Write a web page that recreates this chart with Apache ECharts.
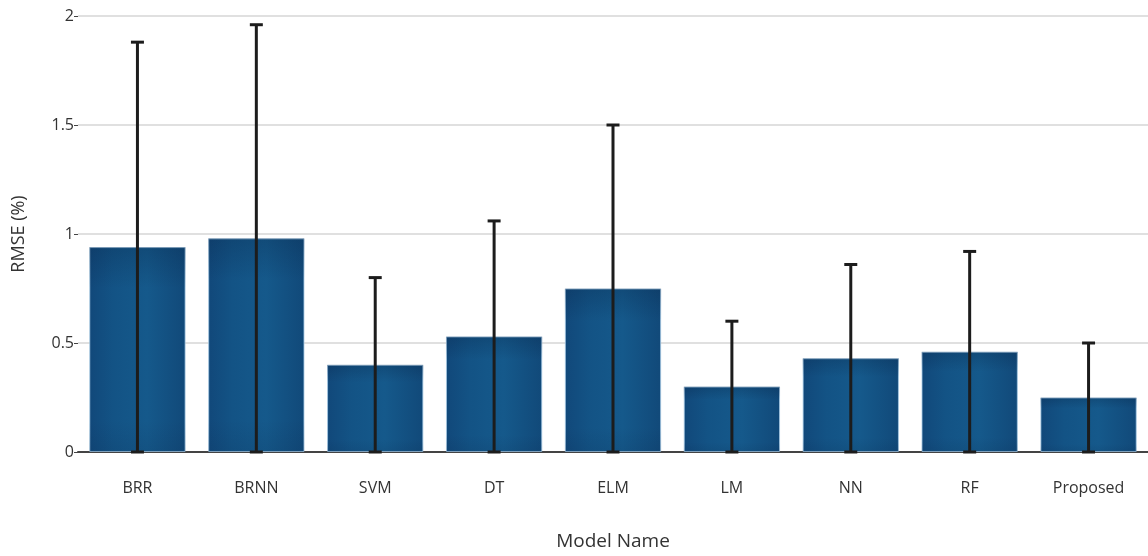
<!DOCTYPE html>
<html>
<head>
<meta charset="utf-8">
<script src="https://cdn.jsdelivr.net/npm/echarts@6/dist/echarts.min.js"></script>
<style>
html,body{margin:0;padding:0;background:#fff;}
#chart{width:1148px;height:556px;}
</style>
</head>
<body>
<div id="chart"></div>
<script>
const categories = ['BRR','BRNN','SVM','DT','ELM','LM','NN','RF','Proposed'];
const rmseValues = [0.94, 0.98, 0.40, 0.53, 0.75, 0.30, 0.43, 0.46, 0.25];
const rmseErrors = [0.94, 0.98, 0.40, 0.53, 0.75, 0.30, 0.43, 0.46, 0.25];
const yTicks = [0, 0.5, 1, 1.5, 2];

const errorData = categories.map((c, i) => [i, rmseValues[i] - rmseErrors[i], rmseValues[i] + rmseErrors[i]]);

const chart = echarts.init(document.getElementById('chart'));
const font = '"Open Sans", "Noto Sans", sans-serif';
chart.setOption({
  animation: false,
  textStyle: { fontFamily: font },
  grid: { left: 78, right: 0, top: 16, bottom: 97, containLabel: false },
  xAxis: {
    type: 'category',
    data: categories,
    name: 'Model Name',
    nameLocation: 'middle',
    nameGap: 80,
    nameTextStyle: { fontSize: 19, color: '#333', fontFamily: font },
    axisLine: { show: true, lineStyle: { color: '#444', width: 2 } },
    axisTick: { show: false },
    axisLabel: { color: '#333', fontSize: 16, margin: 28, fontFamily: font }
  },
  yAxis: {
    type: 'value',
    min: yTicks[0],
    max: yTicks[yTicks.length - 1],
    interval: 0.5,
    name: 'RMSE (%)',
    nameLocation: 'middle',
    nameGap: 50,
    nameTextStyle: { fontSize: 18, color: '#333', fontFamily: font },
    axisLine: { show: false },
    axisTick: { show: true, length: 4, lineStyle: { color: '#444' } },
    axisLabel: { color: '#333', fontSize: 16, margin: 4, fontFamily: font },
    splitLine: { lineStyle: { color: '#d6d6d6', width: 1.5 } }
  },
  series: [
    {
      type: 'bar',
      data: rmseValues,
      barCategoryGap: '19%',
      itemStyle: {
        color: new echarts.graphic.LinearGradient(0, 0, 1, 0, [
          { offset: 0, color: '#11487a' },
          { offset: 0.25, color: '#135385' },
          { offset: 0.6, color: '#15598b' },
          { offset: 1, color: '#114979' }
        ]),
        borderColor: 'rgba(165,200,228,0.8)',
        borderWidth: 1
      },
      z: 2
    },
    {
      type: 'bar',
      data: rmseValues,
      barGap: '-100%',
      barCategoryGap: '19%',
      silent: true,
      itemStyle: {
        color: new echarts.graphic.LinearGradient(0, 0, 0, 1, [
          { offset: 0, color: 'rgba(5,25,55,0.22)' },
          { offset: 0.2, color: 'rgba(5,25,55,0)' },
          { offset: 0.85, color: 'rgba(5,25,55,0)' },
          { offset: 1, color: 'rgba(5,25,55,0.1)' }
        ])
      },
      z: 2
    },
    {
      type: 'custom',
      data: errorData,
      z: 3,
      renderItem: function (params, api) {
        const x = api.value(0);
        const lo = api.coord([x, api.value(1)]);
        const hi = api.coord([x, api.value(2)]);
        const hw = 6.5;
        const style = { stroke: '#1c1c1c', lineWidth: 3, fill: null };
        return {
          type: 'group',
          children: [
            { type: 'line', shape: { x1: lo[0], y1: lo[1], x2: hi[0], y2: hi[1] }, style: style },
            { type: 'line', shape: { x1: hi[0] - hw, y1: hi[1], x2: hi[0] + hw, y2: hi[1] }, style: style },
            { type: 'line', shape: { x1: lo[0] - hw, y1: lo[1], x2: lo[0] + hw, y2: lo[1] }, style: style }
          ]
        };
      },
      encode: { x: 0, y: [1, 2] }
    }
  ]
});
</script>
</body>
</html>
